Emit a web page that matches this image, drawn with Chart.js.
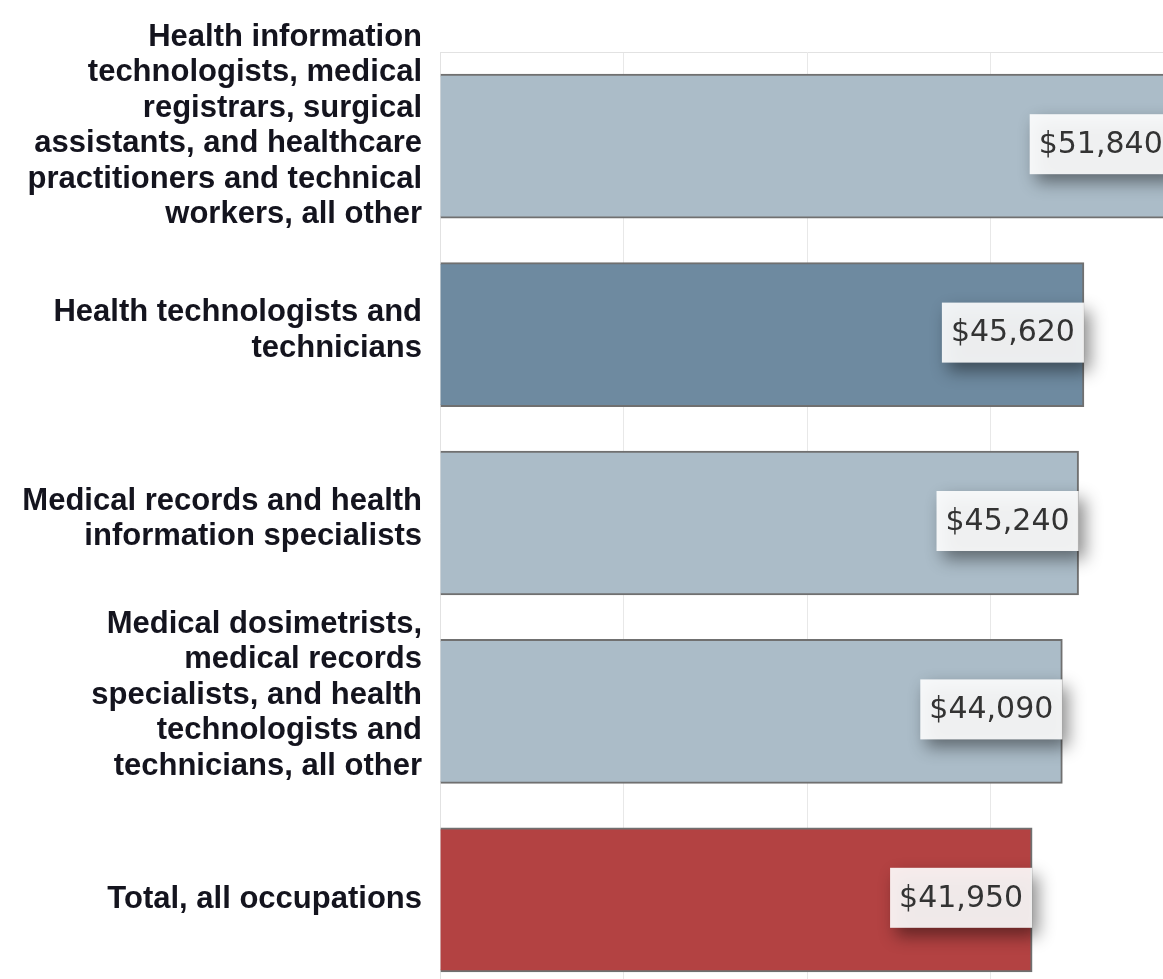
<!DOCTYPE html>
<html>
<head>
<meta charset="utf-8">
<script src="https://cdn.jsdelivr.net/npm/chart.js@4.4.1/dist/chart.umd.min.js"></script>
<style>
  html, body { margin: 0; padding: 0; background: #fff; overflow: hidden; }
  #wrap { width: 1163px; height: 979px; overflow: hidden; }
</style>
</head>
<body>
<div id="wrap"><canvas id="wageChart" width="1174" height="1000"></canvas></div>
<script>
const categories = [
    ['Health information', 'technologists, medical', 'registrars, surgical', 'assistants, and healthcare', 'practitioners and technical', 'workers, all other'],
    ['Health technologists and', 'technicians'],
    ['Medical records and health', 'information specialists'],
    ['Medical dosimetrists,', 'medical records', 'specialists, and health', 'technologists and', 'technicians, all other'],
    ['Total, all occupations']
];
const wages = [51840, 45620, 45240, 44090, 41950];
const barColors = ['#abbcc8', '#6e8aa0', '#abbcc8', '#abbcc8', '#b34242'];
const gridStep = 13000;
const axisMax = 52000;

const fmt = v => '$' + v.toLocaleString('en-US');

// value boxes at the end of each bar
const valueBoxes = {
    id: 'valueBoxes',
    afterDatasetsDraw(chart) {
        const c = chart.ctx;
        const meta = chart.getDatasetMeta(0);
        c.save();
        c.font = '30px "DejaVu Sans"';
        meta.data.forEach((bar, i) => {
            const txt = fmt(wages[i]);
            const w = c.measureText(txt).width + 18;
            const h = 60;
            const x = bar.x - w;
            const y = bar.y - 2 - h / 2;
            c.save();
            c.shadowColor = 'rgba(0,0,0,0.5)';
            c.shadowBlur = 16;
            c.shadowOffsetX = 6;
            c.shadowOffsetY = 8;
            c.fillStyle = 'rgba(255,255,255,0.9)';
            c.fillRect(x, y, w, h);
            c.restore();
            c.fillStyle = '#333';
            c.textAlign = 'center';
            c.textBaseline = 'middle';
            c.fillText(txt, x + w / 2, y + h / 2 + 1);
        });
        c.restore();
    }
};

// wrapped category labels to the left of the plot
const catLabels = {
    id: 'catLabels',
    afterDraw(chart) {
        const c = chart.ctx;
        const yScale = chart.scales.y;
        const lh = 35.5;
        c.save();
        c.font = 'bold 31px "Liberation Sans", Arial, sans-serif';
        c.fillStyle = '#14141e';
        c.textAlign = 'right';
        c.textBaseline = 'middle';
        categories.forEach((lines, i) => {
            const mid = yScale.getPixelForValue(i) - (lines.length - 1) * 4;
            const top = mid - (lines.length - 1) * lh / 2;
            lines.forEach((ln, k) => c.fillText(ln, 422, top + k * lh));
        });
        c.restore();
    }
};

new Chart(document.getElementById('wageChart').getContext('2d'), {
    type: 'bar',
    data: {
        labels: categories,
        datasets: [{
            data: wages,
            backgroundColor: barColors,
            borderColor: '#707070',
            borderWidth: 2,
            barThickness: 144
        }]
    },
    options: {
        indexAxis: 'y',
        responsive: false,
        animation: false,
        layout: { padding: { left: 440, top: 52, right: 0, bottom: 6 } },
        plugins: { legend: { display: false }, tooltip: { enabled: false } },
        scales: {
            x: {
                position: 'top',
                min: 0,
                max: axisMax,
                ticks: { display: false, stepSize: gridStep },
                grid: { color: '#e8e8e8', drawTicks: false },
                border: { color: '#e2e2e2' }
            },
            y: {
                ticks: { display: false },
                grid: { display: false, drawTicks: false },
                border: { color: '#e2e2e2' }
            }
        }
    },
    plugins: [valueBoxes, catLabels]
});
</script>
</body>
</html>
